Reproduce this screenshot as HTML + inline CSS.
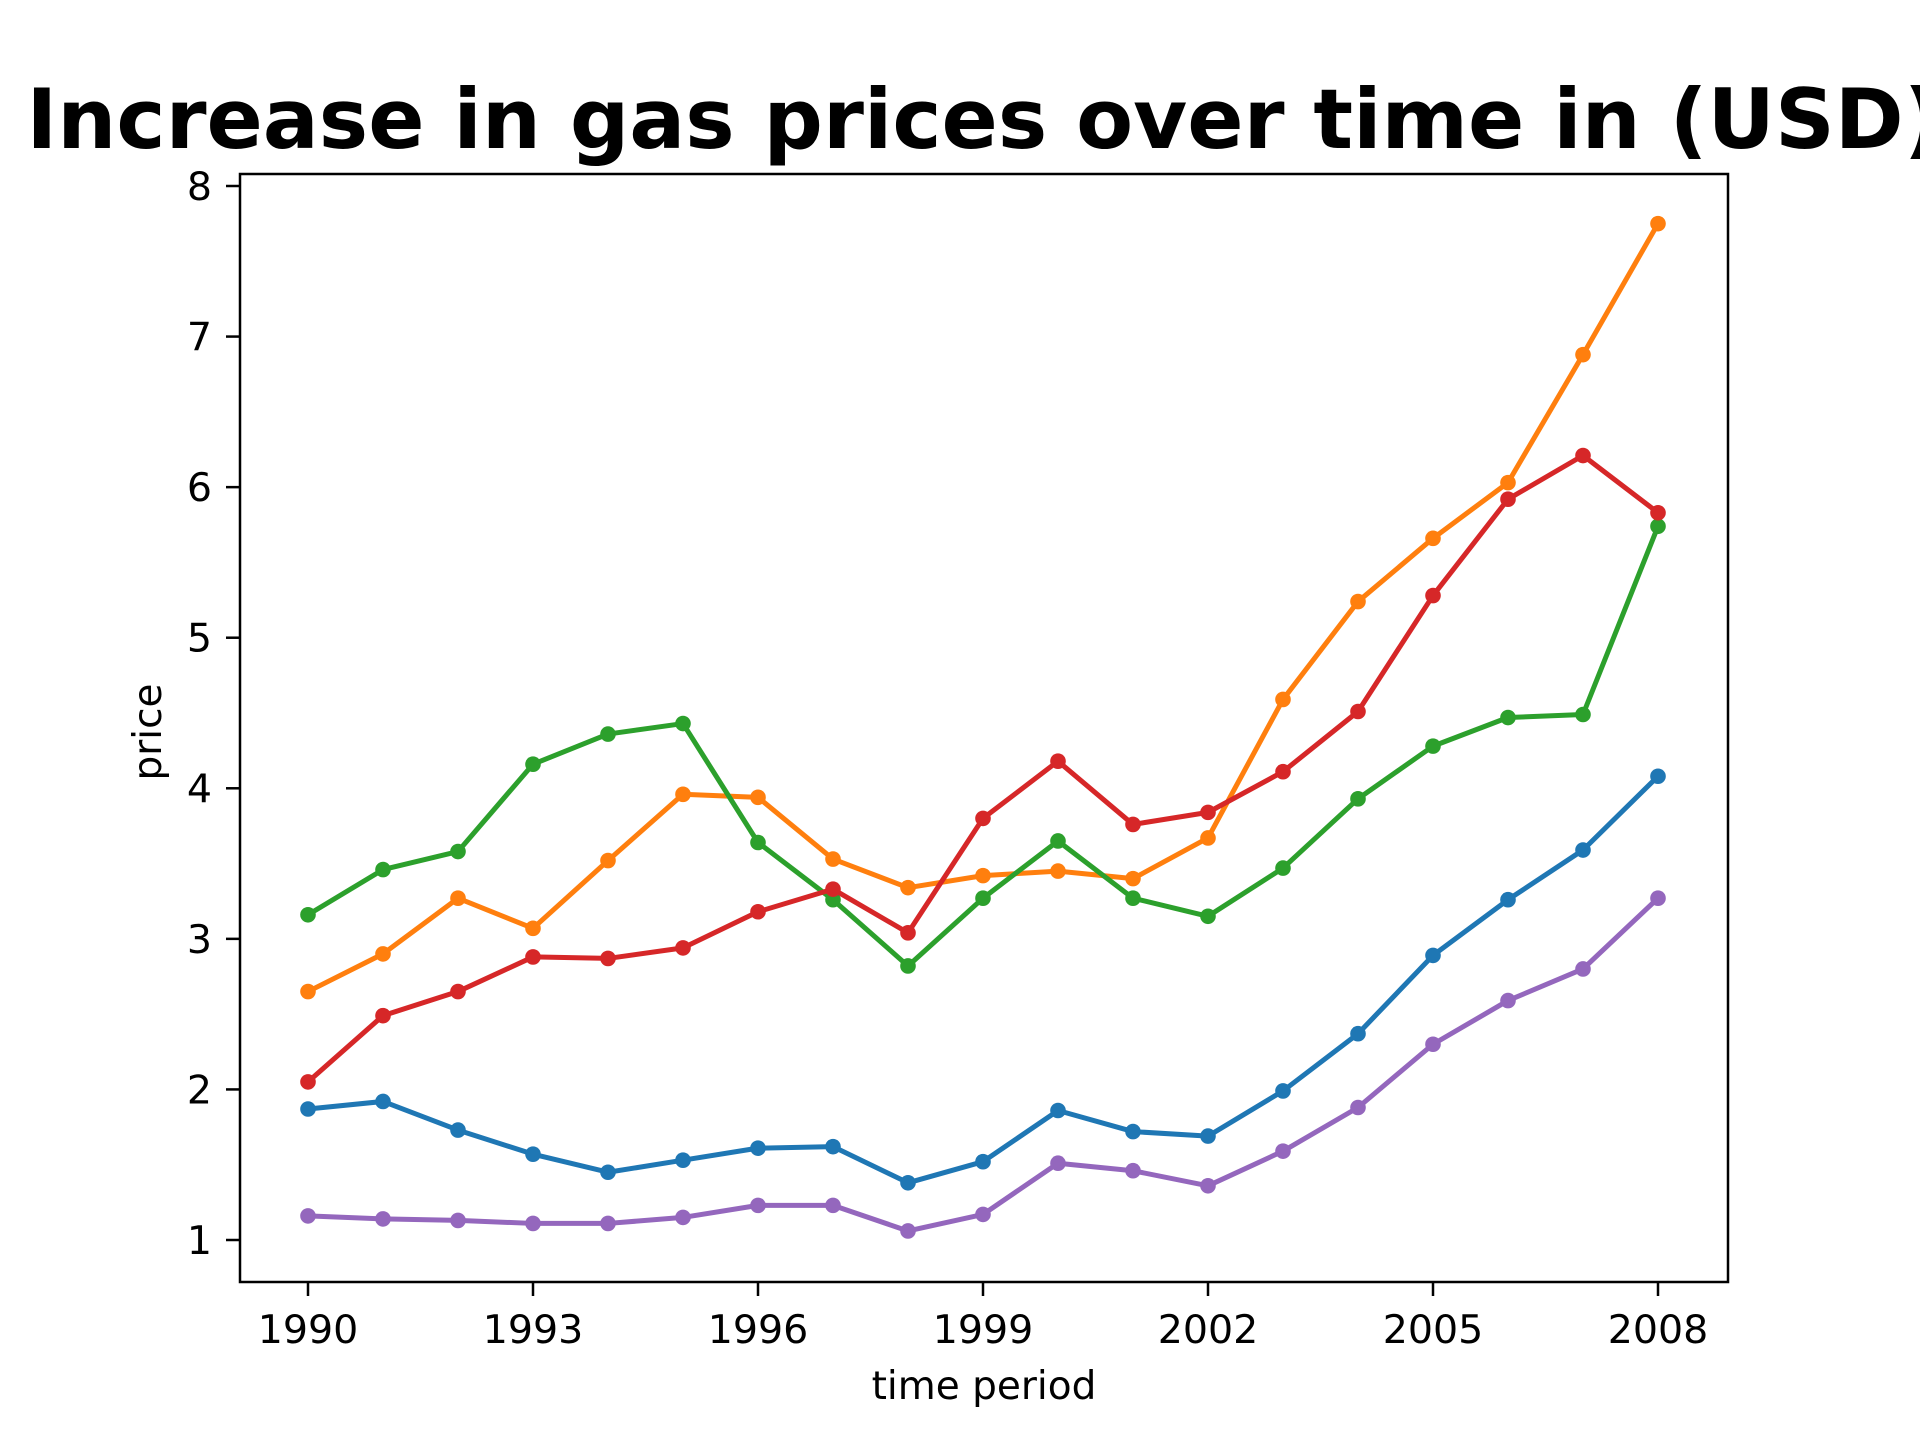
<!DOCTYPE html>
<html><head><meta charset="utf-8"><style>
html,body{margin:0;padding:0;background:#fff;}
svg{display:block;}
text{font-family:"DejaVu Sans","Liberation Sans",sans-serif;fill:#000;}
</style></head><body>
<svg id="chart" width="1920" height="1440" viewBox="0 0 1920 1440">
<rect width="1920" height="1440" fill="#fff"/>
<text x="984" y="148" font-size="83" font-weight="bold" text-anchor="middle">Increase in gas prices over time in (USD)</text>
<g id="ticks"></g>
<g id="series"></g>
<rect x="240" y="174" width="1488" height="1108" fill="none" stroke="#000" stroke-width="2.5"/>
<text x="984" y="1399" font-size="39" text-anchor="middle">time period</text>
<text transform="translate(161,732) rotate(-90)" font-size="39" text-anchor="middle">price</text>
</svg>
<script>
const years=[1990,1991,1992,1993,1994,1995,1996,1997,1998,1999,2000,2001,2002,2003,2004,2005,2006,2007,2008];
const xTicks=[1990,1993,1996,1999,2002,2005,2008];
const yTicks=[1,2,3,4,5,6,7,8];
const seriesBlue=[1.87,1.92,1.73,1.57,1.45,1.53,1.61,1.62,1.38,1.52,1.86,1.72,1.69,1.99,2.37,2.89,3.26,3.59,4.08];
const seriesOrange=[2.65,2.90,3.27,3.07,3.52,3.96,3.94,3.53,3.34,3.42,3.45,3.40,3.67,4.59,5.24,5.66,6.03,6.88,7.75];
const seriesGreen=[3.16,3.46,3.58,4.16,4.36,4.43,3.64,3.26,2.82,3.27,3.65,3.27,3.15,3.47,3.93,4.28,4.47,4.49,5.74];
const seriesRed=[2.05,2.49,2.65,2.88,2.87,2.94,3.18,3.33,3.04,3.80,4.18,3.76,3.84,4.11,4.51,5.28,5.92,6.21,5.83];
const seriesPurple=[1.16,1.14,1.13,1.11,1.11,1.15,1.23,1.23,1.06,1.17,1.51,1.46,1.36,1.59,1.88,2.30,2.59,2.80,3.27];

const NS="http://www.w3.org/2000/svg";
function xs(yr){return 308+(yr-1990)*(1658-308)/18;}
function ys(v){return 1240-(v-1)*(1240-186)/7;}
function mk(tag,attrs,parent){const e=document.createElementNS(NS,tag);for(const k in attrs)e.setAttribute(k,attrs[k]);parent.appendChild(e);return e;}
const tg=document.getElementById('ticks');
xTicks.forEach(t=>{
  const l=mk('line',{x1:xs(t),x2:xs(t),y1:1282,y2:1296,stroke:'#000','stroke-width':2.5},tg);
  
  
  const tx=mk('text',{x:xs(t),y:1343,'font-size':39.5,'text-anchor':'middle'},tg);
  tx.textContent=t;
  
  
});
yTicks.forEach(t=>{
  const l=mk('line',{x1:226,x2:240,y1:ys(t),y2:ys(t),stroke:'#000','stroke-width':2.5},tg);
  
  
  const tx=mk('text',{x:212,y:ys(t)+14,'font-size':39.5,'text-anchor':'end'},tg);
  tx.textContent=t;
  
  
});
const sg=document.getElementById('series');
const all=[[seriesBlue,'#1f77b4','blue'],[seriesOrange,'#ff7f0e','orange'],[seriesGreen,'#2ca02c','green'],[seriesRed,'#d62728','red'],[seriesPurple,'#9467bd','purple']];
all.forEach(([vals,col,nm])=>{
  const g=mk('g',{},sg);
  
  
  const pts=vals.map((v,i)=>xs(years[i])+','+ys(v)).join(' ');
  const pl=mk('polyline',{points:pts,fill:'none',stroke:col,'stroke-width':5,'stroke-linejoin':'round'},g);
  
  
  vals.forEach((v,i)=>{
    const c=mk('circle',{cx:xs(years[i]),cy:ys(v),r:7.8,fill:col},g);
    
    
  });
});
</script>
</body></html>
